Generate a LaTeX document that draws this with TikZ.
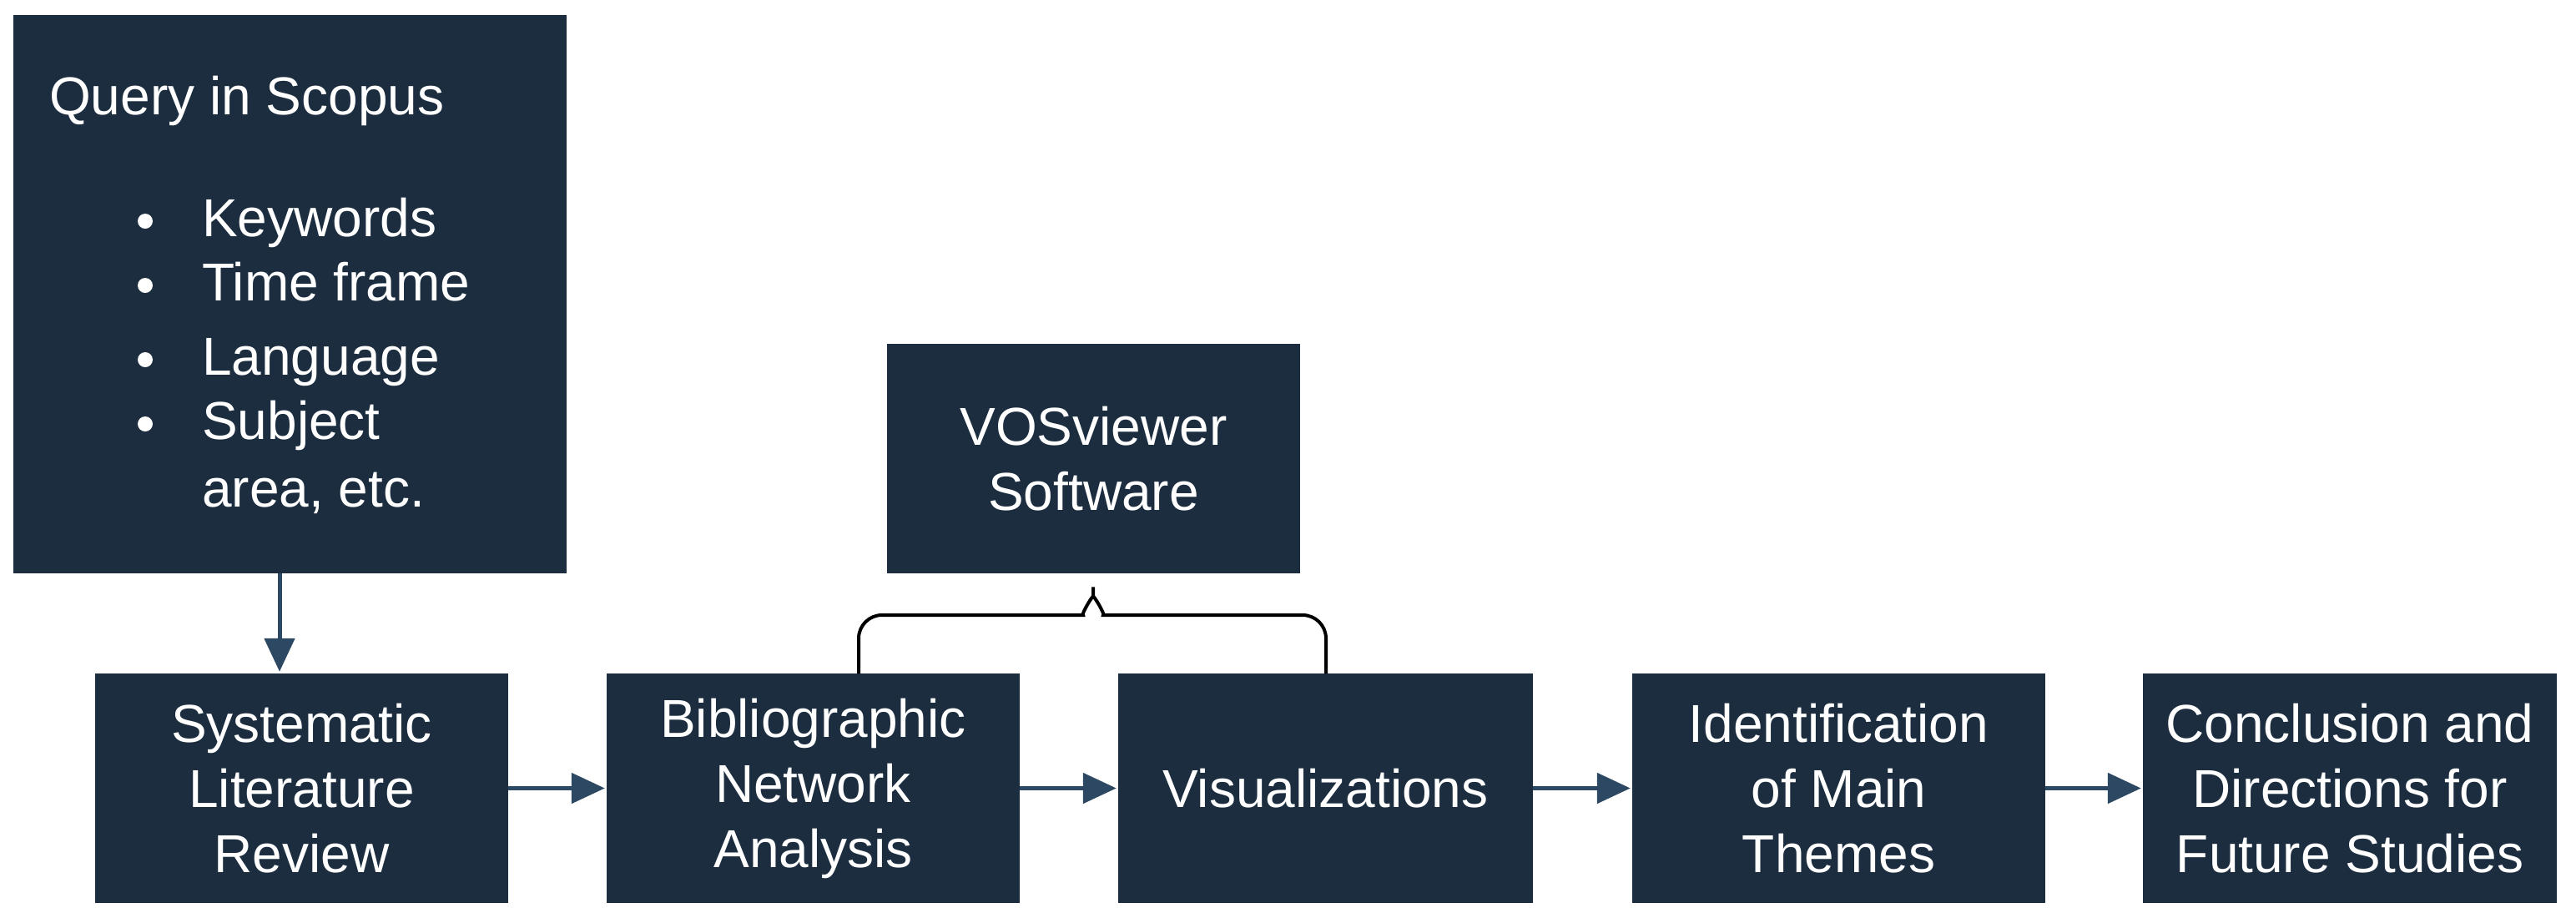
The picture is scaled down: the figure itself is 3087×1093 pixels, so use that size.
\documentclass[tikz,border=0pt]{standalone}
\usepackage{fontspec}
\setmainfont{Liberation Sans}
\usetikzlibrary{arrows.meta}
\definecolor{navy}{HTML}{1B2D3F}
\definecolor{arr}{HTML}{2C4862}
\begin{document}
\begin{tikzpicture}[x=1pt,y=-1pt,
  box/.style={fill=navy,draw=none,text=white,align=center,font=\fontsize{64}{78}\selectfont,inner sep=0pt},
  lbl/.style={text=white,font=\fontsize{64}{78}\selectfont,anchor=base west,inner sep=0pt},
  conn/.style={draw=arr,line width=5pt,-{Triangle[angle=60:36pt,length=40pt]}, shorten >=2pt}]
\useasboundingbox (0,0) rectangle (3087,1093);
\path[fill=navy] (16,18) rectangle (679,687);
\node[box,minimum width=663pt,minimum height=669pt] (q) at (347.5,352.5) {};
\node[lbl] (qt) at (59,137) {Query in Scopus};
\foreach \y/\t [count=\i] in {283/Keywords,360/Time frame,449/Language,526/Subject,607/{area, etc.}}{
  \node[lbl] (b\i) at (242,\y) {\t};
}
\foreach \y in {265,342,431,508}{ \fill[white] (174,\y) circle (9pt); }
\node[box,minimum width=495pt,minimum height=275pt] (v) at (1310.5,549.5) {VOSviewer\\Software};
\node[box,minimum width=495pt,minimum height=275pt] (s1) at (361.5,944.5) {Systematic\\Literature\\Review};
\node[box,minimum width=495pt,minimum height=275pt] (s2) at (974.5,944.5) {Bibliographic\\Network\\Analysis};
\node[box,minimum width=497pt,minimum height=275pt] (s3) at (1588.5,944.5) {Visualizations};
\node[box,minimum width=495pt,minimum height=275pt] (s4) at (2203.5,944.5) {Identification\\of Main\\Themes};
\node[box,minimum width=496pt,minimum height=275pt] (s5) at (2816,944.5) {Conclusion and\\Directions for\\Future Studies};
\draw[conn] (q.south -| 335,0) -- (s1.north -| 335,0);
\draw[conn] (s1) -- (s2);
\draw[conn] (s2) -- (s3);
\draw[conn] (s3) -- (s4);
\draw[conn] (s4) -- (s5);
\coordinate (bl) at (1029,807);
\coordinate (br) at (1589,807);
\draw[line width=4pt,black,rounded corners=28pt]
  (bl) -- (1029,737) -- (1270,737) to[out=0,in=-90] (1310,687)
  to[out=-90,in=180] (1350,737) -- (1589,737) -- (br);
\end{tikzpicture}
\end{document}
